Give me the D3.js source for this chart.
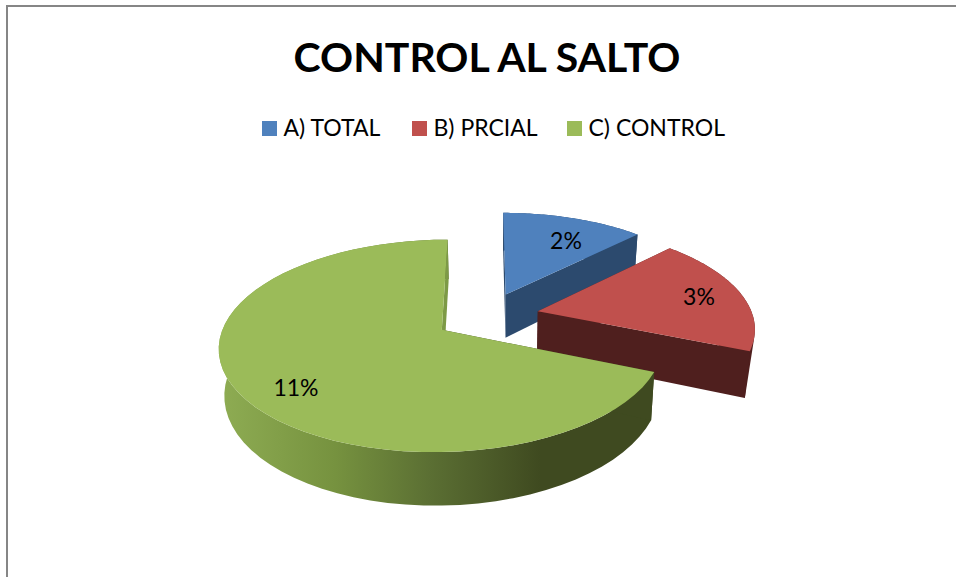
<!DOCTYPE html>
<html>
<head>
<meta charset="utf-8">
<script src="https://cdn.jsdelivr.net/npm/d3@7"></script>
<style>
html, body { margin: 0; padding: 0; background: #fff; }
svg { display: block; }
text { font-family: Lato, "Open Sans", sans-serif; fill: #000; }
</style>
</head>
<body>
<svg width="956" height="577"></svg>
<script>
const title = "CONTROL AL SALTO";
const categories = ["A) TOTAL", "B) PRCIAL", "C) CONTROL"];
const values = [2, 3, 11];
const topColors = ["#4f81bd", "#c0504d", "#9bbb59"];
const sideColors = ["#2c4a6e", "#4f1f1e", "#3f4a20"];

const legendX = [262, 412, 567];
const labelSpots = [[566, 241], [699, 297], [296, 388]];

// the fake 3d camera, fitted by eye against the picture
const explode = [0.24, 0.245, 0.245];
const cam = {cx: 486.5, cy: 316, a: 215, d: 99.7, p: 0.148, depth: 44.5, vanishX: 500, shrink: 0.02};

function project(X, Y, z) {
    const w = 1 - cam.p * Y;
    const x = cam.cx + cam.a * X / w;
    const y = cam.cy + cam.d * Y / w;
    return [x + (cam.vanishX - x) * cam.shrink * z, y + z * cam.depth / w];
}

const svg = d3.select("svg");
const line = d3.line();

// frame
svg.append("path")
    .attr("d", "M7,577V6H956")
    .attr("fill", "none")
    .attr("stroke", "#868686")
    .attr("stroke-width", 2);

svg.append("text")
    .attr("x", 487).attr("y", 72)
    .attr("text-anchor", "middle")
    .attr("font-size", 41)
    .attr("font-weight", 700)
    .text(title);

const legend = svg.selectAll("g.legend").data(categories).enter().append("g")
    .attr("class", "legend")
    .attr("transform", (d, i) => `translate(${legendX[i]},121)`);
legend.append("rect")
    .attr("width", 15).attr("height", 15)
    .attr("fill", (d, i) => topColors[i]);
legend.append("text")
    .attr("x", 21.5).attr("y", 15)
    .attr("font-size", 23)
    .text(d => d);

const defs = svg.append("defs");
const grad = defs.append("linearGradient").attr("id", "greenWall")
    .attr("gradientUnits", "userSpaceOnUse")
    .attr("x1", 225).attr("x2", 540).attr("y1", 0).attr("y2", 0);
[[0, "#8dab52"], [0.35, "#76923f"], [0.65, "#5b6f33"], [1, "#3f4a20"]].forEach(s => {
    grad.append("stop").attr("offset", s[0]).attr("stop-color", s[1]);
});

const slices = d3.pie().sort(null).value(d => d)(values);

slices.forEach((s, i) => {
    const mid = (s.startAngle + s.endAngle) / 2;
    const ox = explode[i] * Math.sin(mid);
    const oy = -explode[i] * Math.cos(mid);
    const rim = z => d3.range(0, 61).map(k => {
        const t = s.startAngle + (s.endAngle - s.startAngle) * k / 60;
        return project(ox + Math.sin(t), oy - Math.cos(t), z);
    });
    const apex = z => project(ox, oy, z);
    const g = svg.append("g");
    const top = rim(0), bottom = rim(1);

    // outer wall, the red one has a straight silhouette in the picture
    const wall = i === 1 ? d3.polygonHull(top.concat([bottom[60]])) : top.concat(bottom.slice().reverse());
    g.append("path")
        .attr("d", line(wall) + "Z")
        .attr("fill", i === 2 ? "url(#greenWall)" : sideColors[i]);
    // the two cut faces
    g.append("path")
        .attr("d", line([apex(0), top[0], bottom[0], apex(1)]) + "Z")
        .attr("fill", sideColors[i]);
    g.append("path")
        .attr("d", line([apex(0), top[60], bottom[60], apex(1)]) + "Z")
        .attr("fill", i === 2 ? "#7d9a46" : sideColors[i]);
    // top surface
    g.append("path")
        .attr("d", line([apex(0)].concat(top)) + "Z")
        .attr("fill", topColors[i]);
});

svg.selectAll("text.value").data(values).enter().append("text")
    .attr("class", "value")
    .attr("x", (d, i) => labelSpots[i][0])
    .attr("y", (d, i) => labelSpots[i][1] + 8)
    .attr("text-anchor", "middle")
    .attr("font-size", 23)
    .text(d => d + "%");
</script>
</body>
</html>
